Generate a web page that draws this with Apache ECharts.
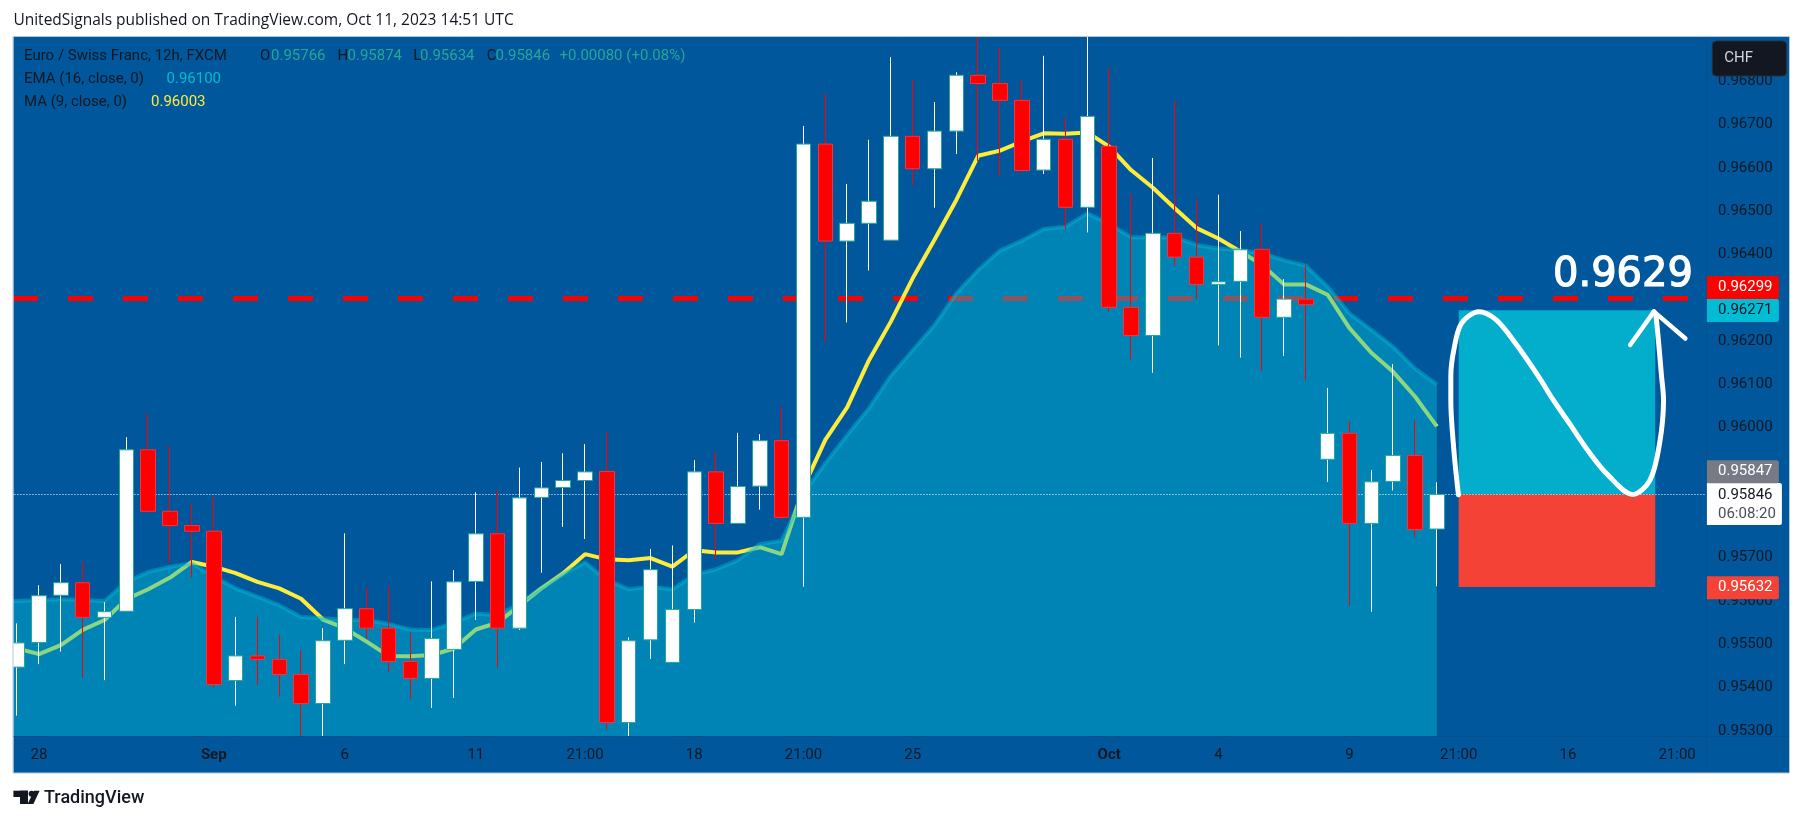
<!DOCTYPE html>
<html>
<head>
<meta charset="utf-8">
<style>html,body{margin:0;padding:0;background:#fff}#main{width:1803px;height:821px}</style>
<script src="https://cdn.jsdelivr.net/npm/echarts@6/dist/echarts.min.js"></script>
</head>
<body>
<div id="main"></div>
<script>
// 12h candles, first slot is off screen (only the averages have a value there)
var opens = [0.95447,0.95504,0.95613,0.95642,0.95562,0.95576,0.95949,0.95807,0.95774,0.95761,
  0.95416,0.95473,0.95465,0.95430,0.95363,0.95509,0.95582,0.95537,0.95460,0.95421,
  0.95488,0.95645,0.95755,0.95537,0.95839,0.95862,0.95878,0.95899,0.95319,0.95510,
  0.95458,0.95580,0.95898,0.95779,0.95865,0.95970,0.95793,0.96655,0.96431,0.96472,
  0.96433,0.96673,0.96598,0.96685,0.96814,0.96795,0.96756,0.96595,0.96666,0.96509,
  0.96650,0.96278,0.96213,0.96449,0.96394,0.96331,0.96338,0.96412,0.96255,0.96297,
  0.95927,0.95987,0.95779,0.95876,0.95936,0.95766];
var closes = [0.95503,0.95612,0.95642,0.95562,0.95575,0.95949,0.95807,0.95774,0.95761,0.95407,
  0.95473,0.95465,0.95430,0.95363,0.95508,0.95582,0.95537,0.95460,0.95421,0.95513,
  0.95644,0.95755,0.95537,0.95838,0.95861,0.95878,0.95898,0.95319,0.95508,0.95672,
  0.95580,0.95898,0.95779,0.95864,0.95970,0.95793,0.96655,0.96431,0.96472,0.96523,
  0.96673,0.96598,0.96685,0.96814,0.96795,0.96756,0.96594,0.96666,0.96509,0.96719,
  0.96278,0.96213,0.96449,0.96394,0.96331,0.96337,0.96411,0.96255,0.96297,0.96284,
  0.95987,0.95779,0.95875,0.95936,0.95765,0.95846];
var highs = [0.95548,0.95636,0.95685,0.95690,0.95597,0.95978,0.96032,0.95958,0.95824,0.95839,
  0.95563,0.95563,0.95521,0.95486,0.95537,0.95756,0.95631,0.95634,0.95527,0.95645,
  0.95671,0.95851,0.95856,0.95908,0.95921,0.95941,0.95962,0.95991,0.95516,0.95720,
  0.95728,0.95925,0.95945,0.95988,0.95985,0.96048,0.96697,0.96772,0.96563,0.96665,
  0.96856,0.96803,0.96752,0.96821,0.96903,0.96877,0.96803,0.96859,0.96717,0.96903,
  0.96832,0.96540,0.96623,0.96757,0.96528,0.96538,0.96454,0.96472,0.96343,0.96375,
  0.96092,0.96015,0.95902,0.96147,0.96018,0.95874];
var lows = [0.95335,0.95454,0.95483,0.95423,0.95417,0.95576,0.95807,0.95687,0.95654,0.95400,
  0.95358,0.95406,0.95379,0.95288,0.95288,0.95454,0.95512,0.95436,0.95373,0.95353,
  0.95376,0.95556,0.95446,0.95533,0.95665,0.95771,0.95743,0.95302,0.95288,0.95466,
  0.95458,0.95550,0.95696,0.95779,0.95811,0.95788,0.95633,0.96199,0.96243,0.96363,
  0.96433,0.96560,0.96508,0.96632,0.96616,0.96582,0.96589,0.96586,0.96459,0.96451,
  0.96268,0.96156,0.96127,0.96374,0.96297,0.96190,0.96162,0.96131,0.96166,0.96109,
  0.95875,0.95589,0.95575,0.95855,0.95747,0.95634];
var ema16 = [0.95600,0.95600,0.95602,0.95604,0.95602,0.95600,0.95644,0.95667,0.95679,0.95687,
  0.95656,0.95629,0.95610,0.95590,0.95563,0.95560,0.95556,0.95556,0.95547,0.95534,
  0.95533,0.95550,0.95571,0.95567,0.95594,0.95630,0.95662,0.95689,0.95648,0.95627,
  0.95633,0.95627,0.95660,0.95673,0.95694,0.95731,0.95739,0.95848,0.95918,0.95983,
  0.96045,0.96120,0.96179,0.96237,0.96310,0.96364,0.96409,0.96432,0.96459,0.96464,
  0.96495,0.96471,0.96440,0.96440,0.96440,0.96422,0.96414,0.96410,0.96403,0.96387,
  0.96374,0.96326,0.96264,0.96226,0.96187,0.96137,0.96100];
var ma9 = [0.95506,0.95490,0.95477,0.95498,0.95533,0.95556,0.95604,0.95627,0.95654,0.95690,
  0.95679,0.95664,0.95644,0.95629,0.95605,0.95557,0.95537,0.95506,0.95473,0.95472,
  0.95475,0.95490,0.95534,0.95550,0.95589,0.95629,0.95664,0.95708,0.95696,0.95694,
  0.95699,0.95679,0.95717,0.95712,0.95712,0.95724,0.95708,0.95862,0.95972,0.96047,
  0.96156,0.96245,0.96345,0.96434,0.96526,0.96628,0.96640,0.96661,0.96680,0.96679,
  0.96682,0.96649,0.96595,0.96554,0.96507,0.96461,0.96437,0.96407,0.96376,0.96331,
  0.96331,0.96307,0.96230,0.96173,0.96129,0.96072,0.96003];

var slotCount = 79;
var tickSlots = [2, 10, 16, 22, 27, 32, 37, 42, 51, 56, 62, 67, 72, 77];
var tickTexts = ['28', 'Sep', '6', '11', '21:00', '18', '21:00', '25', 'Oct', '4', '9', '21:00', '16', '21:00'];
var priceTicks = [0.953,0.954,0.955,0.956,0.957,0.958,0.959,0.960,0.961,0.962,0.963,0.964,0.965,0.966,0.967,0.968];

var resistance = 0.96299;
var lastPrice = 0.95846;
var targetPrice = 0.96271;
var stopPrice = 0.95632;
var boxStart = 67;
var boxEnd = 76;

// hand drawn wave and arrow head: slot position, price
var waveX = [66.99,66.78,66.64,66.64,66.78,67.13,67.93,68.72,69.60,70.66,71.33,72.07,72.95,73.83,74.97,75.76,76.20,76.38,76.29,76.03,75.94];
var waveY = [0.95845,0.95948,0.96064,0.96118,0.96180,0.96241,0.96268,0.96249,0.96195,0.96118,0.96064,0.96010,0.95945,0.95891,0.95846,0.95879,0.95964,0.96064,0.96118,0.96260,0.96268];
var arrowX = [74.85,75.94,77.38];
var arrowY = [0.96191,0.96268,0.96206];

var categories = [];
for (var s = 0; s < slotCount; s++) {
    var t = tickSlots.indexOf(s);
    categories.push(t >= 0 ? tickTexts[t] : '');
}

var wickData = [['-', '-', '-', '-']];
var bodyData = [['-', '-', '-', '-']];
for (var i = 0; i < opens.length; i++) {
    wickData.push([opens[i], closes[i], lows[i], highs[i]]);
    bodyData.push([opens[i], closes[i], Math.min(opens[i], closes[i]), Math.max(opens[i], closes[i])]);
}
var zipXY = function(xs, ys) {
    return xs.map(function(x, n) { return [x, ys[n]]; });
};

var FONT = 'Roboto';
var INK = '#131722';
var BG = '#01579b';
var chart = echarts.init(document.getElementById('main'));

var txt = function(text, x, y, color, size, weight, z, family) {
    return {
        type: 'text', z: z || 30, x: x, y: y,
        style: {text: text, fill: color, font: (weight || 'normal') + ' ' + (size || 15) + 'px ' + (family || FONT), textVerticalAlign: 'middle'}
    };
};
var tag = function(text, y, fill, color) {
    return [
        {type: 'rect', z: 28, shape: {x: 1706.9, y: y - 11.5, width: 72, height: 23, r: [0, 2, 2, 0]}, style: {fill: fill}},
        txt(text, 1718, y, color)
    ];
};

var bigLabel = txt('0.9629', 1553, 276, '#fff', 40, 'normal', 35, '"DejaVu Sans"');
bigLabel.style.stroke = '#fff';
bigLabel.style.lineWidth = 1.2;

var graphics = [
    {type: 'rect', z: 0, shape: {x: 13, y: 37, width: 1776.5, height: 736}, style: {fill: BG}},
    {type: 'rect', z: 15, shape: {x: 0, y: 0, width: 13.4, height: 821}, style: {fill: '#fff'}},
    {type: 'rect', z: 15, shape: {x: 1706.9, y: 37, width: 82.6, height: 736}, style: {fill: BG}},
    {type: 'line', z: 16, shape: {x1: 13, y1: 736.5, x2: 1789, y2: 736.5}, style: {stroke: '#04508c', lineWidth: 1}},
    {type: 'line', z: 16, shape: {x1: 1706.5, y1: 37, x2: 1706.5, y2: 773}, style: {stroke: '#04508c', lineWidth: 1}},
    {type: 'rect', z: 40, shape: {x: 13, y: 36.5, width: 1776.5, height: 736.5}, style: {fill: 'none', stroke: '#b4c8da', lineWidth: 1}},

    txt('UnitedSignals published on TradingView.com, Oct 11, 2023 14:51 UTC', 13.4, 20.7, INK, 15.5, 'normal', 30, '"Open Sans"'),

    txt('Euro / Swiss Franc, 12h, FXCM', 24, 56.7, INK),
    txt('O', 260, 56.7, INK), txt('0.95766', 271, 56.7, '#26a69a'),
    txt('H', 337.5, 56.7, INK), txt('0.95874', 347.5, 56.7, '#26a69a'),
    txt('L', 413.3, 56.7, INK), txt('0.95634', 420, 56.7, '#26a69a'),
    txt('C', 486.8, 56.7, INK), txt('0.95846', 495.6, 56.7, '#26a69a'),
    txt('+0.00080 (+0.08%)', 559.5, 56.7, '#26a69a'),
    txt('EMA (16, close, 0)', 24, 79.7, INK), txt('0.96100', 166.5, 79.7, '#00bcd4'),
    txt('MA (9, close, 0)', 24, 102.7, INK), txt('0.96003', 151, 102.7, '#ffeb3b'),

    {type: 'rect', z: 28, shape: {x: 1712.3, y: 41, width: 74.2, height: 35, r: 4}, style: {fill: INK, stroke: '#2a2e39', lineWidth: 1}},
    txt('CHF', 1724.2, 58.7, '#d1d4dc'),

    {type: 'rect', z: 28, shape: {x: 1706.9, y: 483, width: 75, height: 42, r: [0, 2, 2, 0]}, style: {fill: '#fff'}},
    txt('0.95846', 1718, 495.7, INK),
    txt('06:08:20', 1718, 514.7, '#4a4e5a'),

    bigLabel,

    {type: 'rect', z: 30, shape: {x: 13.4, y: 790.7, width: 14.6, height: 6.3}, style: {fill: INK}},
    {type: 'rect', z: 30, shape: {x: 20, y: 790.7, width: 8, height: 13.3}, style: {fill: INK}},
    {type: 'circle', z: 30, shape: {cx: 31.6, cy: 793.7, r: 3}, style: {fill: INK}},
    {type: 'polygon', z: 30, shape: {points: [[34, 790.7], [39.6, 790.7], [33.4, 804], [27.6, 804]]}, style: {fill: INK}},
    txt('TradingView', 44, 798, INK, 18, '500')
].concat(
    tag('0.96299', 287.5, '#ff0000', '#fff'),
    tag('0.96271', 310.5, '#00bcd4', INK),
    tag('0.95847', 471.7, '#787b86', '#fff'),
    tag('0.95632', 587.7, '#f44336', '#fff')
);

var option = {
    animation: false,
    backgroundColor: '#fff',
    grid: {left: -15.56, top: 36.7, width: 1725.4, height: 699.3, containLabel: false, outerBoundsMode: 'none'},
    xAxis: [{
        type: 'category',
        data: categories,
        z: 20,
        axisLine: {show: false},
        axisTick: {show: false},
        splitLine: {show: false},
        axisLabel: {
            interval: 0,
            margin: 12,
            color: INK,
            fontFamily: FONT,
            fontSize: 15,
            formatter: function(v) {
                return (v === 'Sep' || v === 'Oct') ? '{b|' + v + '}' : v;
            },
            rich: {b: {fontWeight: 'bold', fontFamily: FONT, fontSize: 15, color: INK}}
        }
    }, {
        type: 'value', min: -0.5, max: slotCount - 0.5, show: false, splitLine: {show: false}
    }],
    yAxis: {
        type: 'value',
        position: 'right',
        min: 0.95288,
        max: 0.96903,
        z: 20,
        axisLine: {show: false},
        axisTick: {show: false},
        splitLine: {show: false},
        axisLabel: {
            customValues: priceTicks,
            margin: 8.2,
            color: INK,
            fontFamily: FONT,
            fontSize: 15,
            formatter: function(v) { return v.toFixed(5); }
        }
    },
    series: [{
        name: 'MA (9, close, 0)',
        type: 'line',
        z: 2,
        data: ma9,
        symbol: 'none',
        lineStyle: {color: '#ffeb3b', width: 4},
        markLine: {
            silent: true, z: 1, symbol: 'none', precision: 5, label: {show: false},
            lineStyle: {color: '#ff0000', width: 5, type: [25, 30], dashOffset: 37.4},
            data: [[{xAxis: 0, yAxis: resistance}, {xAxis: 78, yAxis: resistance}]]
        }
    }, {
        name: 'EMA (16, close, 0)',
        type: 'line',
        z: 3,
        data: ema16,
        symbol: 'none',
        lineStyle: {color: 'rgba(0,188,212,0.45)', width: 4},
        areaStyle: {color: 'rgba(0,188,212,0.45)', opacity: 1, origin: 'start'},
        markArea: {
            silent: true, z: 3.2, label: {show: false},
            data: [
                [{xAxis: boxStart, yAxis: targetPrice, itemStyle: {color: '#03adcc'}}, {xAxis: boxEnd, yAxis: lastPrice}],
                [{xAxis: boxStart, yAxis: lastPrice, itemStyle: {color: '#f44336'}}, {xAxis: boxEnd, yAxis: stopPrice}]
            ]
        },
        markLine: {
            silent: true, z: 3.5, symbol: 'none', precision: 5, label: {show: false},
            lineStyle: {color: '#fff', width: 1, type: [1, 2]},
            data: [{yAxis: lastPrice}]
        }
    }, {
        name: 'wicks',
        type: 'candlestick',
        z: 4,
        barWidth: 1,
        data: wickData,
        itemStyle: {color: '#fff', color0: '#ff0000', borderColor: '#fff', borderColor0: '#ff0000', borderWidth: 1}
    }, {
        name: 'Euro / Swiss Franc',
        type: 'candlestick',
        z: 5,
        barWidth: 15,
        data: bodyData,
        itemStyle: {color: '#fff', color0: '#ff0000', borderColor: '#26a69a', borderColor0: '#f23645', borderWidth: 1}
    }, {
        name: 'wave',
        type: 'line',
        xAxisIndex: 1,
        z: 6,
        smooth: 0.33,
        symbol: 'none',
        data: zipXY(waveX, waveY),
        lineStyle: {color: '#fff', width: 5, cap: 'round', join: 'round'}
    }, {
        name: 'arrow',
        type: 'line',
        xAxisIndex: 1,
        z: 6,
        symbol: 'none',
        data: zipXY(arrowX, arrowY),
        lineStyle: {color: '#fff', width: 4.5, cap: 'round', join: 'round'}
    }],
    graphic: {elements: graphics}
};
chart.setOption(option);
</script>
</body>
</html>
